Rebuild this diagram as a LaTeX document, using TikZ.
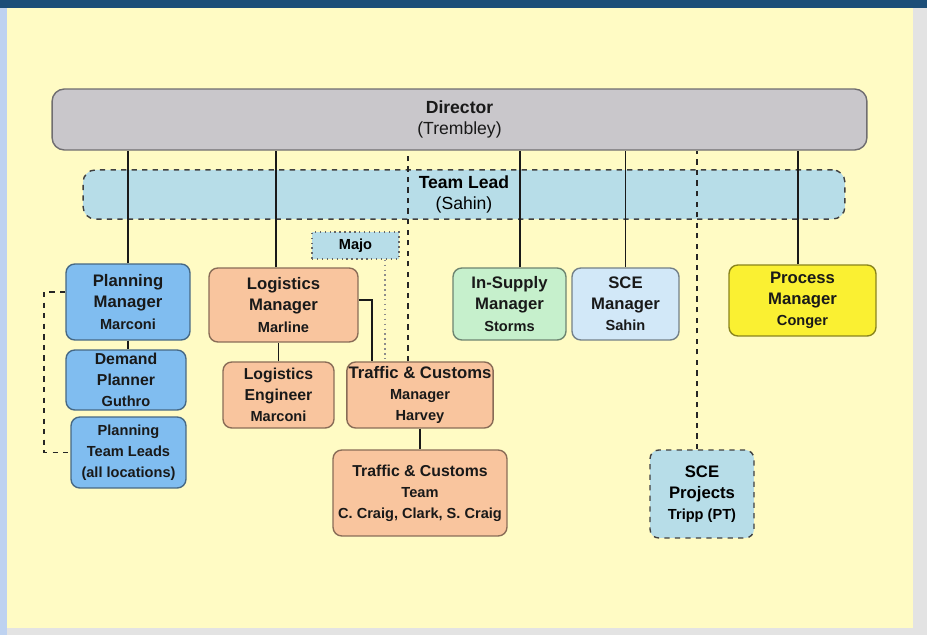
\documentclass[tikz,border=0pt]{standalone}
\usepackage{fontspec}
\setmainfont{Liberation Sans}
\usepackage{xcolor}
\usetikzlibrary{positioning}
\definecolor{topbar}{HTML}{1C4E78}
\definecolor{sidebar}{HTML}{BED2F0}
\definecolor{edgegray}{HTML}{E3E3E3}
\definecolor{paper}{HTML}{FFFBC4}
\definecolor{dirgray}{HTML}{C9C7CB}
\definecolor{leadblue}{HTML}{B7DDE8}
\definecolor{planblue}{HTML}{80BDF0}
\definecolor{logorange}{HTML}{F9C59E}
\definecolor{supgreen}{HTML}{C6F0CC}
\definecolor{scepale}{HTML}{D2E8F8}
\definecolor{procyellow}{HTML}{FAF032}
\newcommand{\ttl}{\fontsize{9.5}{11}\selectfont\bfseries}
\newcommand{\sttl}{\fontsize{9}{10.5}\selectfont\bfseries}
\newcommand{\nme}{\fontsize{8.3}{10}\selectfont\bfseries}

\begin{document}
\begin{tikzpicture}[x=0.02cm, y=-0.02cm,
        unit/.style={rounded corners=5pt, draw=#1!55!black, fill=#1, thick,
                     align=center, inner sep=1pt, text=black!90},
        link/.style={draw=black!90, line width=1pt},
        dlink/.style={draw=black!85, line width=1pt, dashed}]
    \fill[paper] (0,0) rectangle (927,635);
    \fill[edgegray] (913,0) rectangle (927,635);
    \fill[edgegray] (0,628) rectangle (927,635);
    \fill[sidebar] (0,0) rectangle (7,635);
    \fill[topbar] (0,0) rectangle (927,8);
    \useasboundingbox (0,0) rectangle (927,635);

    \node[unit=dirgray, minimum width=16.3cm, minimum height=1.22cm, rounded corners=7pt]
        (dir) at (459.5,119.5) {\fontsize{10}{12.5}\selectfont\textbf{Director}\\
        \fontsize{10}{12.5}\selectfont (Trembley)};
    \node[rounded corners=7pt, fill=leadblue, draw=black!75, thick, dashed, align=center,
          minimum width=15.24cm, minimum height=0.98cm]
        (lead) at (464,194.5) {\fontsize{10}{11.5}\selectfont\textbf{Team Lead}\\
        \fontsize{10}{11.5}\selectfont (Sahin)};

    \node[unit=planblue, minimum width=2.48cm, minimum height=1.52cm] (plan) at (128,302)
        {\ttl Planning\\\ttl Manager\\\nme Marconi};
    \node[unit=planblue, minimum width=2.4cm, minimum height=1.2cm] (demand) at (126,380)
        {\sttl Demand\\\sttl Planner\\\nme Guthro};
    \node[unit=planblue, minimum width=2.3cm, minimum height=1.42cm] (leads) at (128.5,452.5)
        {\nme Planning\\\nme Team Leads\\\nme (all locations)};

    \node[unit=logorange, minimum width=2.98cm, minimum height=1.48cm] (logm) at (283.5,305)
        {\ttl Logistics\\\ttl Manager\\\nme Marline};
    \node[unit=logorange, minimum width=2.22cm, minimum height=1.32cm] (loge) at (278.5,395)
        {\sttl Logistics\\\sttl Engineer\\\nme Marconi};
    \node[unit=logorange, minimum width=2.84cm, minimum height=1.32cm] (tcm) at (420,395)
        {\ttl Traffic \& Customs\\\nme Manager\\\nme Harvey};
    \node[unit=logorange, minimum width=3.48cm, minimum height=1.72cm] (tct) at (420,493)
        {\sttl Traffic \& Customs\\\nme Team\\\nme C. Craig, Clark, S. Craig};
    \node[fill=leadblue, draw=black!60, thick, dotted, minimum width=1.74cm,
          minimum height=0.54cm, inner sep=1pt] (majo) at (355.5,245.5) {\nme Majo};

    \node[unit=supgreen, minimum width=2.26cm, minimum height=1.44cm] (insup) at (509.5,304)
        {\ttl In-Supply\\\ttl Manager\\\nme Storms};
    \node[unit=scepale, minimum width=2.14cm, minimum height=1.44cm] (scem) at (625.5,304)
        {\ttl SCE\\\ttl Manager\\\nme Sahin};
    \node[unit=procyellow, minimum width=2.94cm, minimum height=1.42cm] (proc) at (802.5,300.5)
        {\ttl Process\\\ttl Manager\\\nme Conger};
    \node[rounded corners=5pt, fill=leadblue, draw=black!75, thick, dashed, align=center,
          inner sep=1pt, minimum width=2.08cm, minimum height=1.76cm] (scep) at (702,494)
        {\ttl SCE\\\ttl Projects\\\nme Tripp (PT)};

    \draw[link] (plan.north) -- (plan.north |- dir.south);
    \draw[link] ([xshift=-0.15cm]logm.north) -- ([xshift=-0.15cm]logm.north |- dir.south);
    \draw[link] ([xshift=0.21cm]insup.north) -- ([xshift=0.21cm]insup.north |- dir.south);
    \draw[link] (scem.north) -- (scem.north |- dir.south);
    \draw[link] ([xshift=-0.09cm]proc.north) -- ([xshift=-0.09cm]proc.north |- dir.south);
    \draw[dlink] ([xshift=-0.24cm]tcm.north) -- ([xshift=-0.24cm]tcm.north |- dir.south);
    \draw[dlink] ([xshift=-0.1cm]scep.north) -- ([xshift=-0.1cm]scep.north |- dir.south);

    \draw[link] (plan.south) -- (plan.south |- demand.north);
    \draw[dlink] ([yshift=0.2cm]plan.west) -- ++(-21,0) |- (leads.west);
    \draw[link] (loge.north) -- (loge.north |- logm.south);
    \draw[link, line width=0.6pt] ([yshift=0.1cm]logm.east) -| ([xshift=-0.96cm]tcm.north);
    \draw[black!45, thick, dotted] ([xshift=0.59cm]majo.south) -- ([xshift=0.59cm]majo.south |- tcm.north);
    \draw[link] (tcm.south) -- (tct.north);
\end{tikzpicture}
\end{document}
